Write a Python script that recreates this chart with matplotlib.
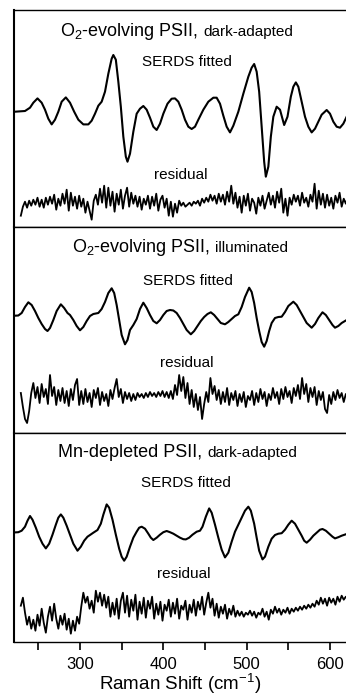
import matplotlib.pyplot as plt
import numpy as np

# Raman shift (cm-1) of the first residual sample and the sample spacing
RESID_START = 229.0
RESID_STEP = 2.5

# --- panel 1: O2-evolving PSII, dark-adapted -------------------------------
dark_fit = [
    (222, 0), (234, 0.7), (240, 4), (244, 9), (249, 13.3), (254, 9), (258, 2),
    (262, -7), (266, -12.7), (270, -8), (274, 0), (278, 10), (283, 14.3),
    (288, 9), (293, 0), (298, -8), (304, -12.7), (310, -12.7), (314, -9),
    (318, -2), (322, 6), (326, 10), (330, 20), (334, 38), (338, 53),
    (340, 56.7), (343, 52), (346, 30), (349, 5), (352, -25), (355, -45),
    (357, -50), (360, -42), (364, -20), (368, -2), (372, 3), (376, 5.7),
    (380, 2), (384, -6), (388, -15), (392, -18.3), (396, -12), (400, -2),
    (405, 8), (410, 13), (414, 13.3), (418, 10), (422, 2), (426, -8),
    (430, -15), (434, -17.3), (438, -15), (442, -8), (448, 2), (454, 10),
    (460, 14), (464, 14), (468, 8), (472, -4), (476, -15), (480, -20.7),
    (484, -14), (490, 0), (496, 18), (502, 35), (506, 44), (509, 47.7),
    (512, 40), (515, 20), (518, -15), (521, -50), (523, -65), (526, -55),
    (529, -25), (532, -5), (536, 5), (540, 2), (545, -13.3), (549, -5),
    (553, 15), (556, 25), (559, 29.3), (562, 25), (566, 10), (570, -5),
    (574, -15), (578, -20.7), (582, -17), (586, -10), (590, -3), (596, 1.7),
    (600, -2), (604, -10), (608, -15), (612, -16), (616, -12), (620, -5),
]
dark_resid = [
    -12, -3, 2, -4, 3, -2, 4, -1, 6, -3, 4, -4, 6, -1, 7, 0, 9, -6, 5, -2,
    10, 0, 14, -7, 11, -2, 7, -5, 8, -3, 5, -9, 2, -7, -16, 3, 9, -1, 15, 1,
    18, -4, 16, -2, 12, -8, 10, -1, 14, -5, 8, 16, -3, 11, 0, 8, -3, 7, -6, 5,
    -1, 8, -5, 7, -2, 10, -7, 4, 8, -4, 5, -12, 2, -13, 0, -9, 3, -2, 1, -3,
    -1, 1, -2, 2, 0, 3, -2, 5, 1, 6, 2, 9, 3, 8, 0, 10, 2, 9, -1, 12,
    2, 18, 0, 11, -4, 7, -9, 8, -2, 10, -7, 5, 1, -10, 6, -2, 8, -5, 3, 11,
    -1, 8, -4, 12, 1, 15, -9, 5, -12, 6, -1, 9, 2, 8, -2, 11, 1, 6, -3, 9,
    2, 20, -5, 13, -1, 10, -4, 9, -2, 6, -5, 8, 1, 11, -3, 5, 0, 7,
]

# --- panel 2: O2-evolving PSII, illuminated --------------------------------
light_fit = [
    (222, -0.7), (226, -0.5), (230, 2), (234, 8), (238, 12.7), (242, 10),
    (246, 4), (250, -3), (254, -9), (258, -14), (261, -16), (264, -13),
    (268, -5), (272, 4), (277, 10.7), (281, 7), (285, 2), (288, 0),
    (292, -5), (296, -11), (300, -15.3), (304, -12), (308, -6), (312, -1),
    (316, 1), (322, 2), (326, 6), (330, 13), (334, 22), (338, 26.7),
    (341, 22), (344, 10), (347, -5), (350, -20), (354, -29.3), (357, -25),
    (360, -15), (364, -10), (368, -4), (372, 6), (376, 12.3), (380, 7),
    (384, 0), (388, -6), (392, -8.3), (396, -5), (400, 0), (404, 4),
    (408, 5), (412, 4.5), (416, 2), (420, -3), (424, -9), (428, -15),
    (433, -19.3), (437, -16), (441, -11), (445, -6), (449, -2), (453, 1),
    (457, 2.7), (461, 0), (465, -4), (469, -8), (474, -9.3), (478, -7),
    (482, -4), (486, -1), (490, 0.7), (494, 8), (498, 18), (503, 27.3),
    (506, 23), (509, 12), (512, -3), (515, -16), (518, -27), (521, -31.7),
    (524, -26), (527, -16), (530, -8), (534, -3), (538, -2), (542, -1.7),
    (546, 3), (550, 9), (556, 13.3), (560, 10), (564, 4), (568, -2),
    (572, -8), (578, -12.7), (582, -9), (586, -3), (591, 2.7), (595, 0),
    (599, -5), (603, -10), (606, -12.7), (610, -11), (614, -8), (620, -5),
]
light_resid = [
    6, -8, -20, -24, -12, 6, 16, 1, 12, -4, 15, 2, 10, -5, 24, 3, 12, -6, 9, -2,
    11, -4, 8, -7, 10, -1, 14, 20, -6, 8, -5, 10, -3, 6, -8, 9, 1, 11, -6, 7,
    -2, 5, -7, 9, 0, 11, 20, 2, 10, -4, 7, 0, 6, -2, 5, -1, 6, 2, 5, 1,
    6, 2, 7, 3, 6, 2, 7, 3, 8, 2, 7, 1, 8, 0, 14, 4, 24, 8, 22, 1,
    16, -5, 9, -8, 5, -11, 2, -20, -5, 7, -3, 21, 5, 13, -1, 9, -5, 7, -3, 11,
    -6, 6, -1, 8, -7, 5, -3, 7, -8, 3, -1, 8, -6, 6, -3, 10, 0, 7, -7, 5,
    -1, 11, 1, 7, -5, 10, 0, 12, 2, 8, -4, 11, 3, 14, 0, 21, 5, 15, -3, 11,
    2, 12, -6, 8, -1, 7, -10, -14, 4, -5, 7, -1, 9, 1, 6, -3, 5, 1,
]

# --- panel 3: Mn-depleted PSII, dark-adapted -------------------------------
mn_fit = [
    (222, -0.7), (226, -0.5), (230, 1), (234, 5), (237, 11), (240, 15.7),
    (243, 12), (247, 4), (251, -5), (255, -12), (259, -16.7), (263, -12),
    (267, -3), (271, 7), (274, 14), (277, 17.3), (280, 14), (284, 6),
    (288, -3), (292, -12), (297, -19), (301, -15), (305, -9), (309, -5),
    (312, -3.3), (316, -1), (321, 1.7), (325, 8), (328, 17), (332, 27.3),
    (335, 24), (339, 12), (343, -3), (347, -17), (350, -25), (353, -29),
    (356, -25), (360, -15), (364, -6), (368, 0), (371, 4), (374, 5),
    (378, 3), (382, -2), (385, -6), (388, -8.3), (392, -6), (396, -3),
    (400, -0.5), (404, 0.7), (408, -0.5), (412, -2), (416, -4), (420, -6),
    (424, -7.5), (427, -7.7), (431, -6), (435, -3), (440, 0), (444, 1),
    (447, 5), (451, 15), (455, 23.3), (458, 19), (462, 7), (466, -6),
    (470, -18), (474, -25.7), (478, -21), (482, -10), (486, 0), (490, 7),
    (494, 14), (498, 21), (502, 25), (505, 21), (509, 8), (512, -6),
    (515, -19), (519, -27.7), (522, -25), (526, -15), (530, -7), (534, -3.3),
    (538, -2), (542, -1.5), (546, 2), (550, 7), (554, 11), (558, 8),
    (562, 2), (566, -4), (569, -9), (572, -11), (576, -8), (580, -4),
    (584, -1), (588, 2), (591, 2.7), (595, 1), (599, -2), (603, -5),
    (606, -6.7), (610, -5.5), (614, -4), (620, -2.3),
]
mn_resid = [
    5, 13, -2, -14, -6, -18, -9, -20, -4, -15, 2, -12, -22, -6, 4, -10, 7, -8, -18, -5,
    -14, -3, -19, -8, -23, -10, -20, -6, -13, 4, 18, 8, 14, 2, 10, -2, 20, 9, 18, 5,
    16, 3, 14, -6, 8, -4, 12, -8, 10, 18, -2, 15, -6, 11, 0, 16, -9, 9, -3, 13,
    -7, 10, 2, 14, -8, 7, -4, 9, -10, 6, 0, 11, -6, 8, -3, 12, -8, 5, 1, 10,
    -9, 6, -2, 11, -5, 9, 1, 14, -4, 8, 18, 3, 12, -5, 7, -7, 4, -3, 6, -8,
    2, -4, 5, -6, 0, -5, -1, -6, -2, -4, 0, -5, -1, -7, -2, -4, 2, -6, -1, -9,
    1, -3, 4, -2, 2, -4, 1, -2, 3, -3, 2, -1, 3, 0, 4, 1, 5, 2, 6, 3,
    7, 4, 10, 6, 13, 7, 12, 5, 13, 8, 12, 6, 14, 9, 15, 11, 14, 12,
]

titles = [
    ('O$_2$-evolving PSII,', 'dark-adapted'),
    ('O$_2$-evolving PSII,', 'illuminated'),
    ('Mn-depleted PSII,', 'dark-adapted'),
]
major_ticks = [300, 400, 500, 600]
minor_ticks = [250, 350, 450, 550]


def init_matplotlib():
    plt.rcParams['font.family'] = ['Liberation Sans', 'DejaVu Sans']
    plt.rcParams['mathtext.default'] = 'regular'


def add_title(ax, x, y, main_text, sub_text):
    # main part in the larger size, the condition in a smaller size right after it
    t = ax.text(x, y, main_text, transform=ax.transAxes, fontsize=13,
                ha='left', va='baseline')
    renderer = ax.figure.canvas.get_renderer()
    bb = t.get_window_extent(renderer)
    x_end = ax.transAxes.inverted().transform((bb.x1, bb.y0))[0]
    ax.text(x_end + 0.016, y, sub_text, transform=ax.transAxes, fontsize=11,
            ha='left', va='baseline')


def plot_panel(ax, fit, resid, title, layout):
    ylo, yhi, resid_offset, title_x, title_y, fit_lab, res_lab = layout
    fx, fy = np.array(fit).T
    rx = RESID_START + RESID_STEP * np.arange(len(resid))
    ax.plot(fx, fy, color='black', lw=1.5, solid_joinstyle='round')
    ax.plot(rx, np.array(resid) + resid_offset, color='black', lw=1.3)
    ax.set_ylim(ylo, yhi)
    ax.set_yticks([])

    add_title(ax, title_x, title_y, title[0], title[1])
    ax.text(fit_lab[0], fit_lab[1], 'SERDS fitted', transform=ax.transAxes,
            fontsize=11, ha='center', va='baseline')
    ax.text(res_lab[0], res_lab[1], 'residual', transform=ax.transAxes,
            fontsize=11, ha='center', va='baseline')

    ax.spines['right'].set_visible(False)
    ax.spines['left'].set_linewidth(1.5)
    ax.spines['top'].set_linewidth(1.0)
    ax.spines['bottom'].set_linewidth(1.0)


def main():
    init_matplotlib()
    fig = plt.figure(figsize=(3.46, 7.0), dpi=100)

    left = 14 / 346
    # panel edges in pixels from the top of the figure
    edges = [10, 227, 433, 642]
    layouts = [
        (-115.3, 101.7, -92.0, 0.139, 0.882, (0.52, 0.743), (0.503, 0.221)),
        (-118.0, 88.0, -84.0, 0.175, 0.879, (0.524, 0.718), (0.52, 0.318)),
        (-110.3, 98.7, -79.0, 0.133, 0.887, (0.517, 0.743), (0.51, 0.306)),
    ]
    data = [(dark_fit, dark_resid), (light_fit, light_resid), (mn_fit, mn_resid)]

    axes = []
    for i in range(3):
        bottom = 1 - edges[i + 1] / 700
        height = (edges[i + 1] - edges[i]) / 700
        ax = fig.add_axes([left, bottom, 1 - left, height])
        ax.set_xlim(220.8, 619.2)
        plot_panel(ax, data[i][0], data[i][1], titles[i], layouts[i])
        axes.append(ax)

    for ax in axes[:2]:
        ax.set_xticks([])

    ax = axes[2]
    ax.set_xticks(major_ticks)
    ax.set_xticks(minor_ticks, minor=True)
    ax.tick_params(axis='x', which='both', direction='out', length=6, width=1.2,
                   labelsize=12, pad=4.5)
    ax.set_xlabel('Raman Shift (cm$^{-1}$)', fontsize=13.5, labelpad=0.5)

    fig.savefig('out.png', dpi=100)


if __name__ == '__main__':
    main()
